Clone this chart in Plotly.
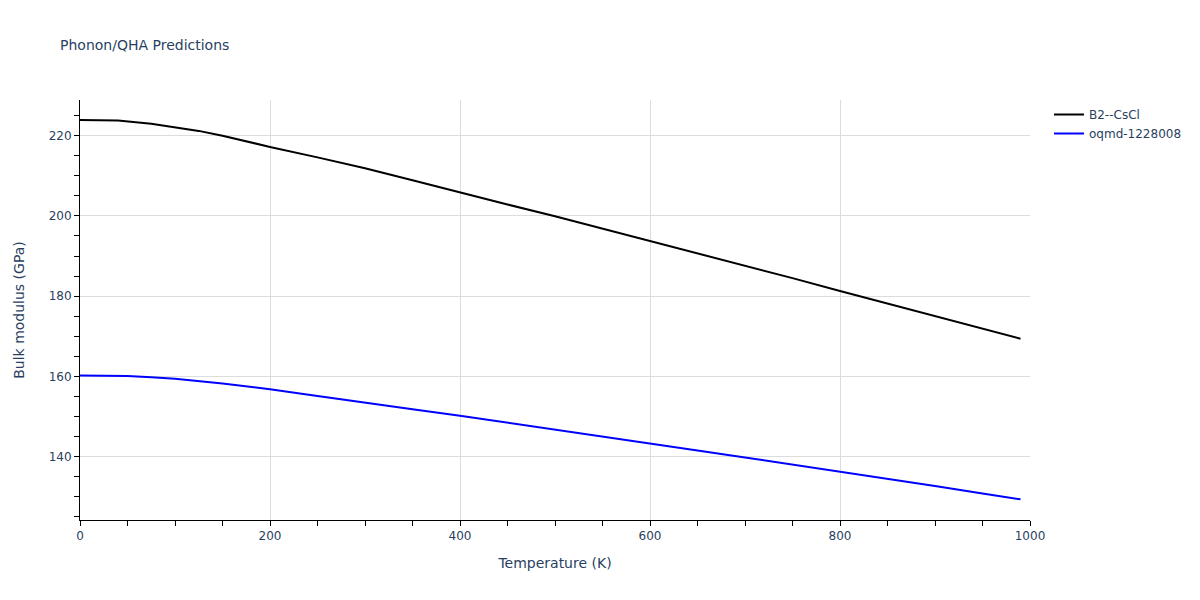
import plotly.graph_objects as go

# Temperature grid (K)
temps_b2 = [0, 25, 40, 75, 100, 125, 150, 200, 250, 300, 350, 400, 450, 500,
            550, 600, 650, 700, 750, 800, 850, 900, 950, 990]
bulk_b2 = [223.9, 223.85, 223.8, 223.0, 222.1, 221.2, 220.0, 217.2, 214.6, 211.9,
           208.9, 205.8, 202.85, 199.9, 196.85, 193.8, 190.75, 187.65, 184.5, 181.3,
           178.2, 175.05, 171.9, 169.4]

temps_oqmd = [0, 25, 50, 75, 100, 150, 200, 250, 300, 350, 400, 450, 500,
              550, 600, 650, 700, 750, 800, 850, 900, 950, 990]
bulk_oqmd = [160.2, 160.2, 160.1, 159.8, 159.4, 158.2, 156.8, 155.1, 153.4, 151.8,
             150.2, 148.5, 146.8, 145.05, 143.3, 141.55, 139.8, 138.05, 136.3, 134.5,
             132.65, 130.8, 129.35]

series_names = ["B2--CsCl", "oqmd-1228008"]
series_colors = ["black", "blue"]

fig = go.Figure()
fig.add_trace(go.Scatter(x=temps_b2, y=bulk_b2, mode="lines", name=series_names[0],
                         line=dict(color=series_colors[0], width=2)))
fig.add_trace(go.Scatter(x=temps_oqmd, y=bulk_oqmd, mode="lines", name=series_names[1],
                         line=dict(color=series_colors[1], width=2)))

axis_common = dict(
    showline=True, linecolor="black", linewidth=1,
    ticks="outside", tickcolor="black", ticklen=5,
    showgrid=True, gridcolor="#dcdcdc", zeroline=False,
    tickfont=dict(size=12),
)

fig.update_layout(
    template="plotly_white",
    width=1184, height=584,
    font=dict(family="DejaVu Sans, Verdana, sans-serif", size=12, color="#2a3f5f"),
    title=dict(text="Phonon/QHA Predictions", x=52 / 1184, xref="container",
               y=1 - 37 / 584, yref="container", yanchor="middle", font=dict(size=14)),
    xaxis=dict(title=dict(text="Temperature (K)", font=dict(size=14)), range=[0, 1000], dtick=200,
               minor=dict(dtick=50, ticks="outside", ticklen=5, tickcolor="black", showgrid=False),
               **axis_common),
    yaxis=dict(title=dict(text="Bulk modulus (GPa)", font=dict(size=14), standoff=20),
               range=[124.2, 228.9], dtick=20,
               minor=dict(dtick=5, ticks="outside", ticklen=5, tickcolor="black", showgrid=False),
               **axis_common),
    legend=dict(x=1.02, y=1, xanchor="left", yanchor="top"),
    margin=dict(l=72, r=162, t=92, b=72, autoexpand=False),
)

fig.write_html("out.html")
